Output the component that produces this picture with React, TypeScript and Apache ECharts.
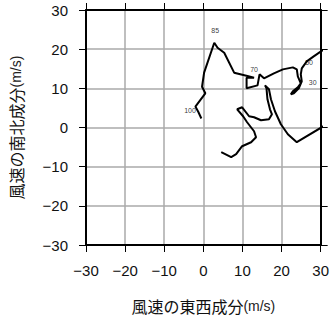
import React, { useEffect, useRef } from "react";
import * as echarts from "echarts";

// Hodograph wind components (m/s), surface upward
const windU = [
  -0.5, -1.27, -2.03, 0.51, -0.33, 0.2, 2.8, 3.64, 5.34, 7.88, 11.27, 12.97, 11.06, 11.06,
  13.86, 14.37, 15.51, 18.05, 20.34, 22.89, 23.9, 24.16, 24.92, 24.16, 22.89, 22.38, 23.14,
  24.41, 25.17, 24.92, 25.17, 26.45, 28.22, 33.2, 33.5, 23.9, 21.61, 19.83, 18.31, 17.29,
  16.78, 15.77, 16.15, 16.4, 17.04, 17.55, 16.78, 14.75, 12.97, 11.7, 9.92, 8.65, 10.17,
  11.19, 12.97, 13.48, 12.21, 9.92, 8.39, 7.12, 4.58,
];
const windV = [
  2.3, 3.96, 5.34, 8.73, 10.4, 14.0, 21.64, 20.37, 19.1, 14.0, 13.13, 12.68, 12.68, 10.0,
  10.76, 13.57, 12.55, 13.82, 14.84, 15.35, 14.84, 13.06, 11.27, 10.25, 9.24, 8.47, 8.73,
  10.0, 11.78, 13.57, 15.1, 16.88, 18.15, 21.6, 2.0, -3.76, -1.72, 0.83, 4.14, 7.2, 9.75,
  10.76, 10.0, 7.2, 4.65, 3.38, 2.1, 1.85, 2.61, 2.87, 5.16, 4.65, 2.87, 1.34, -0.96, -2.48,
  -3.76, -4.78, -6.82, -7.58, -6.31,
];

// Pressure level labels (x10 hPa)
const levelLabels = ["100", "85", "70", "50", "30"];
const labelU = [-3.4, 3.05, 12.97, 27.03, 27.97];
const labelV = [4.4, 24.8, 14.84, 16.7, 11.6];

const ticks = [-30, -20, -10, 0, 10, 20, 30];

const latin = "'Liberation Sans', Arial, sans-serif";
const cjk = "'Noto Sans CJK JP', 'Liberation Sans', sans-serif";

const fmt = (v: number) => (v < 0 ? "\u2212" + Math.abs(v) : String(v));

export default function App() {
  const ref = useRef<HTMLDivElement>(null);
  useEffect(() => {
    document.body.style.margin = "0";
    if (!ref.current) return;
    const chart = echarts.init(ref.current, undefined, { renderer: "svg" });
    const axisCommon = {
      type: "value" as const,
      min: ticks[0],
      max: ticks[ticks.length - 1],
      interval: 10,
      axisLine: { show: true, onZero: false, lineStyle: { color: "#000", width: 2 } },
      axisTick: { show: true, inside: false, length: 7, lineStyle: { color: "#000", width: 1 } },
    };
    const nameStyle = {
      rich: {
        a: { fontSize: 16, fontFamily: cjk, color: "#111" },
        b: { fontSize: 14, fontFamily: latin, color: "#222" },
      },
    };
    chart.setOption({
      animation: false,
      color: ["#000"],
      grid: { left: 86, top: 10, right: 10, bottom: 73 },
      xAxis: [
        {
          ...axisCommon,
          position: "bottom",
          name: "{a|風速の東西成分}{b|(m/s)}",
          nameLocation: "middle",
          nameGap: 53,
          nameTextStyle: nameStyle,
          axisLabel: { fontSize: 15, fontFamily: latin, color: "#111", margin: 18, formatter: fmt },
          splitLine: { show: true, lineStyle: { color: "#aaa", width: 1.5 } },
        },
        {
          ...axisCommon,
          position: "top",
          axisLabel: { show: false },
          splitLine: { show: false },
        },
      ],
      yAxis: [
        {
          ...axisCommon,
          position: "left",
          name: "{a|風速の南北成分}{b|(m/s)}",
          nameLocation: "middle",
          nameGap: 62,
          nameTextStyle: nameStyle,
          axisLabel: { fontSize: 15, fontFamily: latin, color: "#111", margin: 18, formatter: fmt },
          splitLine: { show: true, lineStyle: { color: "#aaa", width: 1.5 } },
        },
        {
          ...axisCommon,
          position: "right",
          axisLabel: { show: false },
          splitLine: { show: false },
        },
      ],
      series: [
        {
          type: "line",
          data: windU.map((u, i) => [u, windV[i]]),
          showSymbol: false,
          symbol: "none",
          clip: true,
          color: "#000",
          lineStyle: { color: "#000", width: 2 },
          z: 5,
        },
        {
          type: "scatter",
          symbolSize: 0,
          color: "#000",
          itemStyle: { color: "#000" },
          data: levelLabels.map((n, i) => ({
            name: n,
            value: [labelU[i], labelV[i]],
            label: { color: "#000" },
          })),
          label: {
            show: true,
            position: "top",
            distance: -4,
            formatter: (p: any) => p.name,
            fontSize: 7,
            fontFamily: latin,
            color: "#000",
          },
          z: 6,
        },
      ],
    });
    return () => chart.dispose();
  }, []);
  return <div ref={ref} style={{ width: 332, height: 319 }} />;
}
